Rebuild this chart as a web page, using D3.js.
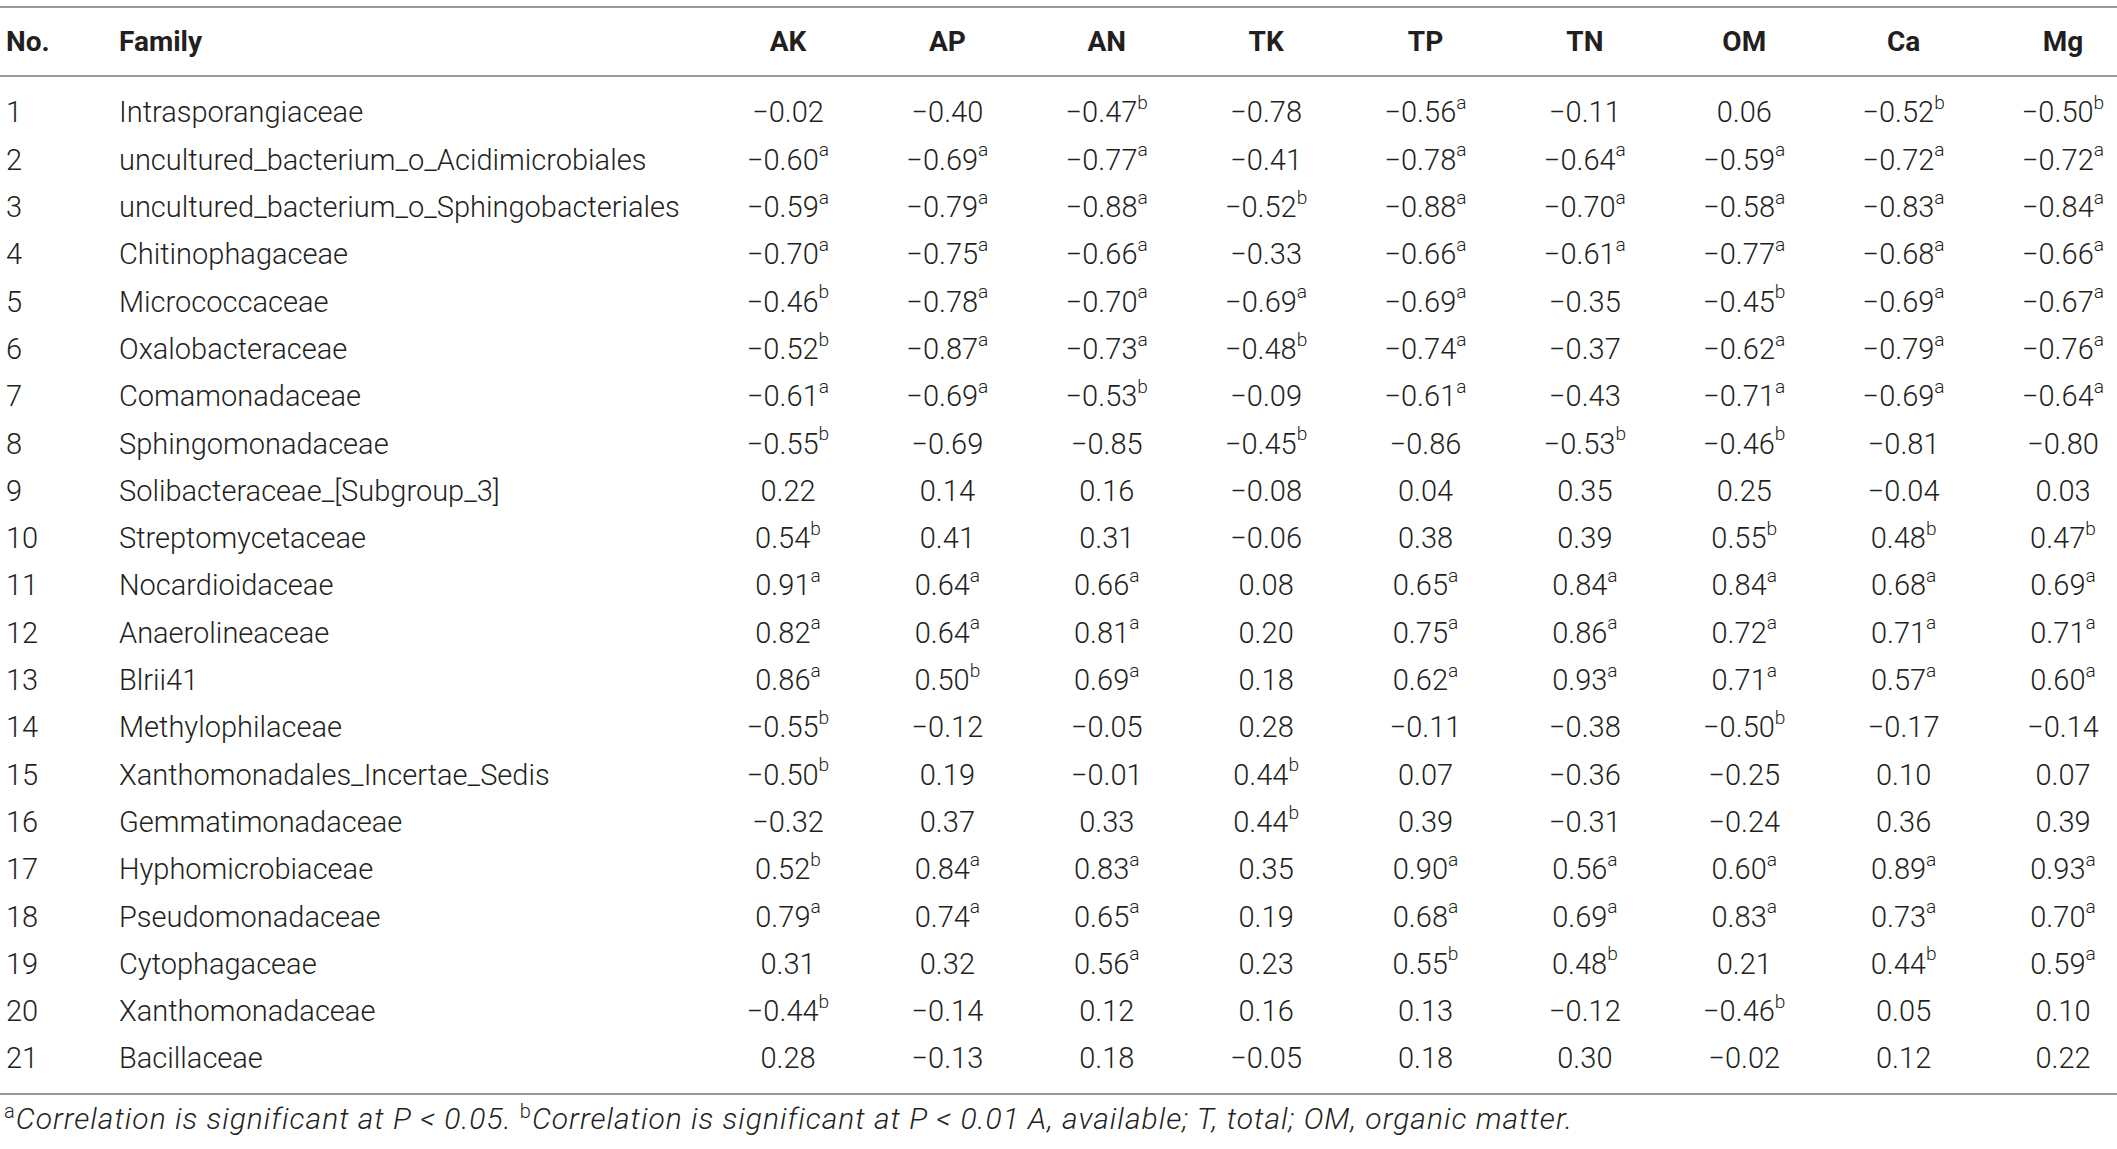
<!DOCTYPE html>
<html>
<head>
<meta charset="utf-8">
<script src="https://cdn.jsdelivr.net/npm/d3@7"></script>
<style>
  html, body { margin: 0; padding: 0; background: #fff; }
  svg { display: block; }
  .cell { font-family: Roboto, "Liberation Sans", sans-serif; font-weight: 300; fill: #231f20; }
  .head { font-family: Roboto, "Liberation Sans", sans-serif; font-weight: 700; fill: #231f20; }
  .note { font-family: Roboto, "Liberation Sans", sans-serif; font-weight: 300; font-style: italic; fill: #231f20; }
  .rule { stroke: #9a9a9a; stroke-width: 2; }
</style>
</head>
<body>
<script>
// Table data
const columns = ["AK", "AP", "AN", "TK", "TP", "TN", "OM", "Ca", "Mg"];

const families = [
  "Intrasporangiaceae",
  "uncultured_bacterium_o_Acidimicrobiales",
  "uncultured_bacterium_o_Sphingobacteriales",
  "Chitinophagaceae",
  "Micrococcaceae",
  "Oxalobacteraceae",
  "Comamonadaceae",
  "Sphingomonadaceae",
  "Solibacteraceae_[Subgroup_3]",
  "Streptomycetaceae",
  "Nocardioidaceae",
  "Anaerolineaceae",
  "Blrii41",
  "Methylophilaceae",
  "Xanthomonadales_Incertae_Sedis",
  "Gemmatimonadaceae",
  "Hyphomicrobiaceae",
  "Pseudomonadaceae",
  "Cytophagaceae",
  "Xanthomonadaceae",
  "Bacillaceae"
];

// correlation coefficients, one row per family, in column order
const values = [
  [-0.02, -0.40, -0.47, -0.78, -0.56, -0.11,  0.06, -0.52, -0.50],
  [-0.60, -0.69, -0.77, -0.41, -0.78, -0.64, -0.59, -0.72, -0.72],
  [-0.59, -0.79, -0.88, -0.52, -0.88, -0.70, -0.58, -0.83, -0.84],
  [-0.70, -0.75, -0.66, -0.33, -0.66, -0.61, -0.77, -0.68, -0.66],
  [-0.46, -0.78, -0.70, -0.69, -0.69, -0.35, -0.45, -0.69, -0.67],
  [-0.52, -0.87, -0.73, -0.48, -0.74, -0.37, -0.62, -0.79, -0.76],
  [-0.61, -0.69, -0.53, -0.09, -0.61, -0.43, -0.71, -0.69, -0.64],
  [-0.55, -0.69, -0.85, -0.45, -0.86, -0.53, -0.46, -0.81, -0.80],
  [ 0.22,  0.14,  0.16, -0.08,  0.04,  0.35,  0.25, -0.04,  0.03],
  [ 0.54,  0.41,  0.31, -0.06,  0.38,  0.39,  0.55,  0.48,  0.47],
  [ 0.91,  0.64,  0.66,  0.08,  0.65,  0.84,  0.84,  0.68,  0.69],
  [ 0.82,  0.64,  0.81,  0.20,  0.75,  0.86,  0.72,  0.71,  0.71],
  [ 0.86,  0.50,  0.69,  0.18,  0.62,  0.93,  0.71,  0.57,  0.60],
  [-0.55, -0.12, -0.05,  0.28, -0.11, -0.38, -0.50, -0.17, -0.14],
  [-0.50,  0.19, -0.01,  0.44,  0.07, -0.36, -0.25,  0.10,  0.07],
  [-0.32,  0.37,  0.33,  0.44,  0.39, -0.31, -0.24,  0.36,  0.39],
  [ 0.52,  0.84,  0.83,  0.35,  0.90,  0.56,  0.60,  0.89,  0.93],
  [ 0.79,  0.74,  0.65,  0.19,  0.68,  0.69,  0.83,  0.73,  0.70],
  [ 0.31,  0.32,  0.56,  0.23,  0.55,  0.48,  0.21,  0.44,  0.59],
  [-0.44, -0.14,  0.12,  0.16,  0.13, -0.12, -0.46,  0.05,  0.10],
  [ 0.28, -0.13,  0.18, -0.05,  0.18,  0.30, -0.02,  0.12,  0.22]
];

// significance marks (a: P < 0.05, b: P < 0.01)
const marks = [
  ["",  "",  "b", "",  "a", "",  "",  "b", "b"],
  ["a", "a", "a", "",  "a", "a", "a", "a", "a"],
  ["a", "a", "a", "b", "a", "a", "a", "a", "a"],
  ["a", "a", "a", "",  "a", "a", "a", "a", "a"],
  ["b", "a", "a", "a", "a", "",  "b", "a", "a"],
  ["b", "a", "a", "b", "a", "",  "a", "a", "a"],
  ["a", "a", "b", "",  "a", "",  "a", "a", "a"],
  ["b", "",  "",  "b", "",  "b", "b", "",  ""],
  ["",  "",  "",  "",  "",  "",  "",  "",  ""],
  ["b", "",  "",  "",  "",  "",  "b", "b", "b"],
  ["a", "a", "a", "",  "a", "a", "a", "a", "a"],
  ["a", "a", "a", "",  "a", "a", "a", "a", "a"],
  ["a", "b", "a", "",  "a", "a", "a", "a", "a"],
  ["b", "",  "",  "",  "",  "",  "b", "",  ""],
  ["b", "",  "",  "b", "",  "",  "",  "",  ""],
  ["",  "",  "",  "b", "",  "",  "",  "",  ""],
  ["b", "a", "a", "",  "a", "a", "a", "a", "a"],
  ["a", "a", "a", "",  "a", "a", "a", "a", "a"],
  ["",  "",  "a", "",  "b", "b", "",  "b", "a"],
  ["b", "",  "",  "",  "",  "",  "b", "",  ""],
  ["",  "",  "",  "",  "",  "",  "",  "",  ""]
];

const footnote = [
  { sup: "a", text: "Correlation is significant at P < 0.05. " },
  { sup: "b", text: "Correlation is significant at P < 0.01 A, available; T, total; OM, organic matter." }
];

const width = 2117;
const height = 1149;
const fontSize = 29;

const svg = d3.select("body").append("svg")
  .attr("width", width)
  .attr("height", height);

// column centres and row centres
const x = d3.scalePoint().domain(columns).range([788, 2063]);
const y = d3.scalePoint().domain(d3.range(1, families.length + 1)).range([112, 1058]);
const fmt = d3.format(".2f");

// horizontal rules
[7, 76, 1094].forEach(yy => {
  svg.append("line").attr("class", "rule")
    .attr("x1", 0).attr("x2", width)
    .attr("y1", yy).attr("y2", yy);
});

// header
const head = svg.append("g").attr("class", "head").attr("font-size", 28);
head.append("text").attr("x", 6).attr("y", 41).attr("dy", "0.35em").text("No.");
head.append("text").attr("x", 119).attr("y", 41).attr("dy", "0.35em").text("Family");
head.selectAll("text.col")
  .data(columns)
  .join("text")
  .attr("class", "col")
  .attr("x", d => x(d))
  .attr("y", 41)
  .attr("dy", "0.35em")
  .attr("text-anchor", "middle")
  .text(d => d);

// body rows
const rows = svg.append("g").attr("class", "cell").attr("font-size", fontSize)
  .selectAll("g")
  .data(families)
  .join("g")
  .attr("transform", (d, i) => `translate(0,${y(i + 1)})`);

rows.append("text").attr("x", 6).attr("dy", "0.36em").text((d, i) => i + 1);
rows.append("text").attr("x", 119).attr("dy", "0.36em").text(d => d);

rows.each(function(d, i) {
  const cells = d3.select(this).selectAll("text.val")
    .data(columns.map((c, j) => ({ col: c, v: values[i][j], m: marks[i][j] })))
    .join("text")
    .attr("class", "val")
    .attr("x", c => x(c.col))
    .attr("dy", "0.36em")
    .attr("text-anchor", "middle");
  cells.append("tspan").text(c => fmt(c.v));
  cells.filter(c => c.m).append("tspan")
    .attr("font-size", fontSize * 0.66)
    .attr("dy", "-0.7em")
    .text(c => c.m);
});

// footnote
const note = svg.append("text").attr("class", "note")
  .attr("x", 4).attr("y", 1129).attr("dy", "0.36em")
  .attr("font-size", 30)
  .attr("letter-spacing", 1);
footnote.forEach(f => {
  note.append("tspan").attr("font-style", "normal")
    .attr("font-size", 20).attr("dy", "-0.55em").text(f.sup);
  note.append("tspan").attr("dy", "0.37em").text(f.text);
});
</script>
</body>
</html>
